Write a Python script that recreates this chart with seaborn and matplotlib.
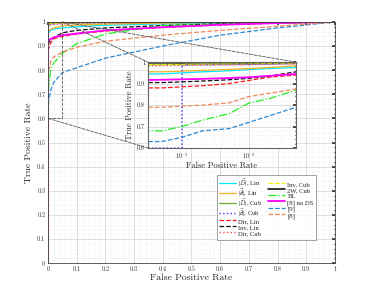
import numpy as np
import pandas as pd
import seaborn as sns
import matplotlib.pyplot as plt
from matplotlib.patches import Rectangle, ConnectionPatch
from matplotlib.ticker import (FixedLocator, FuncFormatter, LogLocator,
                               NullFormatter)

sns.set_theme(style='white')
plt.rcParams['font.family'] = ['cmr10', 'DejaVu Serif']
plt.rcParams['mathtext.fontset'] = 'cm'
plt.rcParams['axes.formatter.use_mathtext'] = True

# False positive rate grid shared by most curves
fpr = [0, 1e-4, 5e-4, 1e-3, 2e-3, 5e-3, 1e-2, 2e-2, 5e-2, 0.1, 0.2, 0.4, 0.6, 0.8, 1.0]

# |d|, Cub jumps at 1e-3, so it gets its own grid
fpr_pcub = [0, 1e-4, 9.9e-4, 1e-3, 2e-3, 5e-3, 1e-2, 2e-2, 5e-2, 0.1, 0.2, 0.4, 0.6, 0.8, 1.0]

tpr_dlin   = [0, .945, .945, .950, .955, .960, .965, .970, .975, .980, .986, .992, .996, .999, 1]
tpr_plin   = [0, .955, .955, .958, .962, .966, .970, .975, .983, .987, .991, .995, .998, 1, 1]
tpr_dcub   = [0, .988, .988, .989, .990, .991, .992, .993, .995, .996, .998, .999, 1, 1, 1]
tpr_pcub   = [0, 0, 0, .987, .988, .989, .990, .991, .993, .995, .997, .999, 1, 1, 1]
tpr_dirlin = [0, .880, .880, .885, .890, .900, .915, .930, .940, .950, .962, .977, .988, .995, 1]
tpr_invlin = [0, .905, .905, .908, .912, .918, .925, .935, .955, .965, .975, .985, .992, .997, 1]
tpr_dircub = [0, .984, .984, .985, .986, .987, .988, .990, .992, .994, .996, .998, .999, 1, 1]
tpr_invcub = [0, .990, .990, .991, .992, .993, .994, .995, .996, .997, .998, .999, 1, 1, 1]
tpr_2w     = [0, .996, .997, .997, .998, .998, .998, .999, .999, 1, 1, 1, 1, 1, 1]
tpr_bl     = [0, .680, .680, .700, .730, .760, .810, .830, .870, .910, .950, .985, .990, .995, 1]
tpr_nods   = [0, .915, .918, .920, .922, .926, .930, .936, .945, .952, .965, .978, .988, .995, 1]
tpr_ref9   = [0, .630, .630, .650, .680, .690, .720, .750, .790, .810, .850, .900, .945, .975, 1]
tpr_ref8   = [0, .790, .790, .795, .800, .810, .840, .855, .875, .895, .920, .945, .965, .982, 1]

labels = [r'|$\vec{D}$|, Lin', r'|$\vec{\partial}$|, Lin', r'|$\vec{D}$|, Cub',
          r'|$\vec{\partial}$|, Cub', 'Dir, Lin', 'Inv, Lin', 'Dir, Cub',
          'Inv, Cub', '2W, Cub', 'BL', '[8] no DS', '[9]', '[8]']

curves = [
    (fpr, tpr_dlin, '#00e8ff', '-', 0.9),
    (fpr, tpr_plin, '#edb120', '-', 0.9),
    (fpr, tpr_dcub, '#77ac30', '-', 0.9),
    (fpr_pcub, tpr_pcub, '#3b3bff', ':', 1.0),
    (fpr, tpr_dirlin, '#ff1a1a', '--', 0.9),
    (fpr, tpr_invlin, '#111111', '--', 0.9),
    (fpr, tpr_dircub, '#ff5050', ':', 1.0),
    (fpr, tpr_invcub, '#f2f200', '--', 0.9),
    (fpr, tpr_2w, '#000000', '-', 1.1),
    (fpr, tpr_bl, '#22ee22', '-.', 0.9),
    (fpr, tpr_nods, '#ff00ff', '-', 1.3),
    (fpr, tpr_ref9, '#2b8ad6', '--', 0.9),
    (fpr, tpr_ref8, '#f08a5d', '--', 0.9),
]

fig = plt.figure(figsize=(3.7, 2.96), dpi=100)
ax = fig.add_axes([0.13, 0.111, 0.775, 0.815])
axins = fig.add_axes([0.4, 0.5, 0.4, 0.29])

for (x, y, c, ls, lw), lab in zip(curves, labels):
    df = pd.DataFrame({'fpr': x, 'tpr': y})
    sns.lineplot(data=df, x='fpr', y='tpr', ax=ax, color=c, linestyle=ls,
                 linewidth=lw, label=lab, sort=False, estimator=None)
    # log-x inset: drop FPR = 0, pin TPR below the inset to its bottom edge
    dfi = df[df['fpr'] > 0].assign(tpr=lambda d: d['tpr'].clip(lower=0.6))
    sns.lineplot(data=dfi, x='fpr', y='tpr', ax=axins, color=c, linestyle=ls,
                 linewidth=lw, legend=False, sort=False, estimator=None)

for ln in axins.get_lines():
    ln.set_clip_on(True)
    ln.set_clip_box(axins.bbox)

fmt_g = FuncFormatter(lambda v, p: '%g' % round(v, 3))

# main axes styling
ax.set_xlim(0, 1)
ax.set_ylim(0, 1)
ax.xaxis.set_major_locator(FixedLocator(np.linspace(0, 1, 11)))
ax.yaxis.set_major_locator(FixedLocator(np.linspace(0, 1, 11)))
ax.xaxis.set_minor_locator(FixedLocator(np.linspace(0, 1, 51)))
ax.yaxis.set_minor_locator(FixedLocator(np.linspace(0, 1, 51)))
ax.xaxis.set_major_formatter(fmt_g)
ax.yaxis.set_major_formatter(fmt_g)
ax.grid(which='major', color='#d0d0d0', linewidth=0.5)
ax.grid(which='minor', color='#e4e4e4', linewidth=0.4, linestyle=':')
ax.tick_params(which='both', direction='in', top=True, right=True, length=2,
               labelsize=4.5, colors='#333333', pad=2)
ax.tick_params(which='minor', length=1)
ax.set_xlabel('False Positive Rate', fontsize=7, labelpad=1)
ax.set_ylabel('True Positive Rate', fontsize=7, labelpad=3)
for s in ax.spines.values():
    s.set_color('#444444')
    s.set_linewidth(0.6)

leg = ax.legend(ncol=2, loc='lower right', bbox_to_anchor=(0.945, 0.083),
                prop={'family': ['Liberation Serif'], 'size': 4.8},
                frameon=True, fancybox=False, edgecolor='#777777',
                handlelength=2.6, handleheight=1.6, columnspacing=0.8,
                labelspacing=-0.35, handletextpad=0.3, borderpad=0.3)
leg.get_frame().set_linewidth(0.6)

# inset axes
axins.set_xscale('log')
axins.set_xlim(3.1e-4, 0.05)
axins.set_ylim(0.6, 1)
axins.yaxis.set_major_locator(FixedLocator([0.6, 0.7, 0.8, 0.9, 1.0]))
axins.yaxis.set_minor_locator(FixedLocator(np.linspace(0.6, 1, 21)))
axins.yaxis.set_major_formatter(fmt_g)
axins.xaxis.set_major_locator(FixedLocator([1e-3, 1e-2]))
axins.xaxis.set_minor_locator(LogLocator(base=10, subs=np.arange(2, 10)))
axins.xaxis.set_major_formatter(FuncFormatter(
    lambda v, p: r'$10^{%d}$' % int(round(np.log10(v)))))
axins.xaxis.set_minor_formatter(NullFormatter())
axins.grid(which='major', color='#d0d0d0', linewidth=0.5)
axins.grid(which='minor', color='#e4e4e4', linewidth=0.4, linestyle=':')
axins.tick_params(which='both', direction='in', top=True, right=True, length=2,
                  labelsize=4.5, colors='#333333', pad=2)
axins.tick_params(which='minor', length=1)
axins.set_xlabel('False Positive Rate', fontsize=6, labelpad=1)
axins.set_ylabel('True Positive Rate', fontsize=6, labelpad=2)
axins.set_facecolor('white')
for s in axins.spines.values():
    s.set_color('#666666')
    s.set_linewidth(0.8)

# zoom rectangle and connectors
ax.add_patch(Rectangle((0, 0.6), 0.05, 0.4, fill=False, edgecolor='#555555',
                       linestyle='--', linewidth=0.6, zorder=5))
for pa, pb in [((0.05, 1.0), (0, 1)), ((0.05, 1.0), (1, 1)), ((0, 0.6), (0, 0))]:
    con = ConnectionPatch(xyA=pa, coordsA=ax.transData, xyB=pb,
                          coordsB=axins.transAxes, color='#555555',
                          linestyle='--', linewidth=0.6)
    fig.add_artist(con)

fig.savefig('out.png', dpi=100)
